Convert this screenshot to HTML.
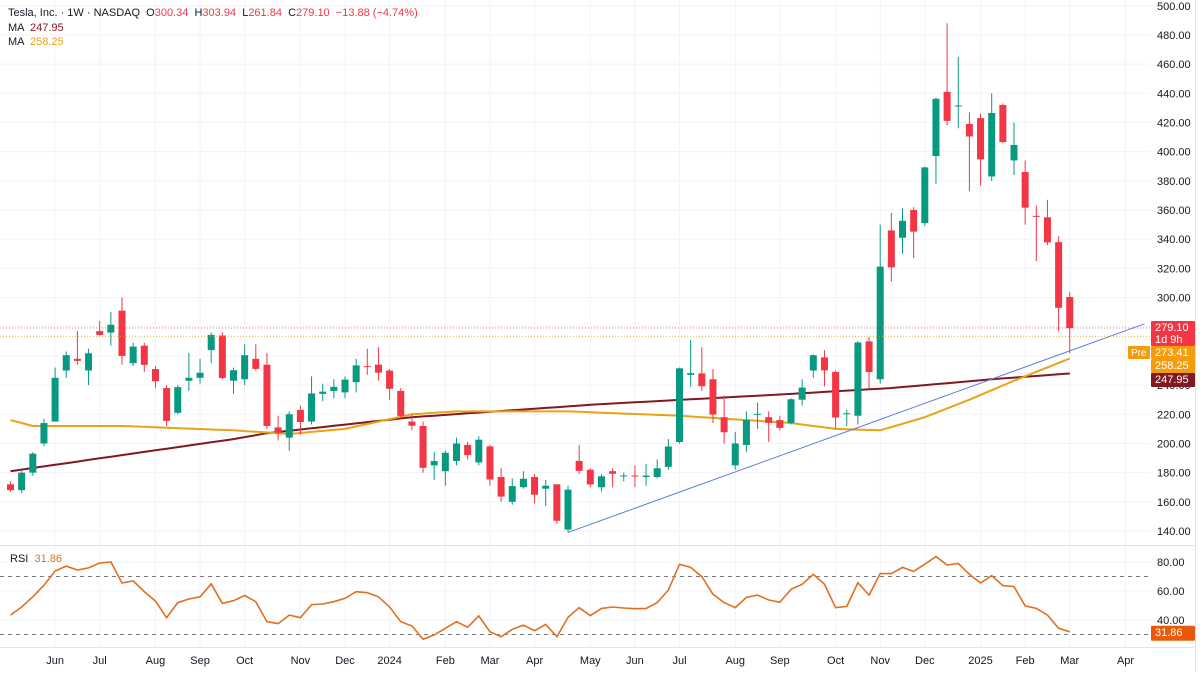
<!DOCTYPE html>
<html><head><meta charset="utf-8"><style>
html,body{margin:0;padding:0;background:#fff;}
svg{display:block;font-family:"Liberation Sans",sans-serif;}
</style></head><body>
<svg id="chart" width="1200" height="680" viewBox="0 0 1200 680" xmlns="http://www.w3.org/2000/svg">
<g id="grid"></g>
<g id="mas"></g>
<g id="candles"></g>
<g id="over"></g>
<g id="rsi"></g>
<g id="axes"></g>
<g font-size="11">
<text x="8" y="16" fill="#131722" xml:space="preserve">Tesla, Inc. · 1W · NASDAQ  O<tspan fill="#f23645">300.34</tspan>  H<tspan fill="#f23645">303.94</tspan>  L<tspan fill="#f23645">261.84</tspan>  C<tspan fill="#f23645">279.10  −13.88 (−4.74%)</tspan></text>
<text x="8" y="31" fill="#131722" xml:space="preserve">MA  <tspan fill="#8b1a2b">247.95</tspan></text>
<text x="8" y="45" fill="#131722" xml:space="preserve">MA  <tspan fill="#e8a317">258.25</tspan></text>
<text x="10" y="562" fill="#131722" xml:space="preserve">RSI  <tspan fill="#e07020">31.86</tspan></text>
</g>
</svg>
<script>
const opens=[172,168,180,200,215,250,258,250,277,276,291,255,267,251,238,221,243,245,264,274,243,244,258,254,211,204,223,215,234,236,235,242,253,254,250,236,215,212,185,181,188,199,187,198,177,160,170,177,169,172,141,188,182,170,181,178,178,177,177,184,201,247,248,244,218,185,199,220,218,216,214,230,250,259,249,220,219,270,244,346,341,360,351,397,441,431,419,423,383,432,394,386,356,355,338,300.34];
const highs=[174,181,194,217,252,263,277,265,284,290,300,269,269,253,240,240,262,258,276,276,252,268,268,262,219,222,226,246,241,244,246,258,265,266,251,238,220,215,194,195,204,201,205,199,183,176,181,179,175,172,171,199,183,179,183,180,185,186,189,203,252,271,266,251,233,208,222,228,222,219,231,244,261,264,250,223,270,273,350,358,361,362,390,437,488,465,427,426,440,433,420,394,363,367,342,303.94];
const lows=[167,166,178,198,215,245,254,240,274,267,254,253,249,238,212,220,236,241,255,244,234,240,250,210,202,195,206,213,229,231,231,235,247,243,230,217,209,180,175,171,185,189,185,171,160,158,169,159,157,145,139,179,170,167,170,174,170,171,176,182,200,239,236,214,200,182,194,210,201,209,213,226,245,239,210,212,213,238,241,311,330,327,349,378,418,416,373,377,380,406,384,350,325,336,277,261.84];
const closes=[168,180,193,214,245,260.5,256.6,261.8,274.4,281.4,260,266.4,253.9,242.7,215.5,238.6,245,248.5,274.4,244.9,250.2,260.5,251.1,212,207.3,220,214.7,234.3,235.5,238.8,243.8,253.5,252.5,248.5,237.5,218.9,212.2,183.3,187.9,193.6,200,192,202.6,175.3,163.6,170.8,175.8,164.9,171,147,168.3,181.2,171.9,177.5,179.2,178.1,177.5,178,183,197.9,251.5,248.2,239.2,219.8,207.7,200,216.1,220.3,214.1,210.7,230.3,238.3,260.5,250.1,217.8,220.7,269.2,249,321.2,320.7,352.6,345.2,389.2,436.2,421.1,431.7,410.4,394.7,426.5,406.6,404.6,361.6,355.9,337.8,293,279.1];
const rsiValues=[43.4,49,56,64,73.8,77.2,74.5,75.9,79.3,80,65.5,67,59.5,53,41.6,52,54.5,56,65,51.5,53.3,57,52.6,38.8,37.5,43.4,41.6,50.6,51,52.6,55,59.5,58.8,56,49,38.8,35.9,26.7,29.7,34.3,38.8,35,42.8,31.9,28.5,33.6,36.5,32.6,37,28.5,41.8,48.5,43,48,49,48.3,47.8,48,52,60.7,78.4,76.3,70,57.7,52,48.5,55.6,57.2,53.8,52.2,61.2,64.6,71.5,64.6,48.5,49.4,65.7,57.2,72,72,76.3,73.5,78.5,83.7,77.9,79,71.5,65.5,70.6,63.7,63,49.7,48,43.4,34.3,31.86];
const maSlowIdx=[0,10,20,23,36,53,70,79,88,95];
const maSlowVal=[181,192,203,207,218,227,234,238,244,247.95];
const maFastIdx=[0,2,10,20,25,30,36,40,50,60,70,74,78,82,86,90,95];
const maFastVal=[216,212,212,209,206.5,210,220,222,222,219,214,210,209,218,230,243,258.25];
const monthLabels=["Jun","Jul","Aug","Sep","Oct","Nov","Dec","2024","Feb","Mar","Apr","May","Jun","Jul","Aug","Sep","Oct","Nov","Dec","2025","Feb","Mar","Apr"];
const monthIdx=[4,8,13,17,21,26,30,34,39,43,47,52,56,60,65,69,74,78,82,87,91,95,100];
const priceTicks=[140,160,180,200,220,240,260,280,300,320,340,360,380,400,420,440,460,480,500];
const rsiTicks=[80,60,40];
const trendStart=[50,139], trendEnd=[101.7,282];
const lastPrice=279.10, prePrice=273.41;

const NS="http://www.w3.org/2000/svg";
const X=i=>10.5+i*11.15;
const Y=p=>531-(p-140)*1.459;
const YR=r=>562+(80-r)*1.45;
function mk(tag,attrs,parent,txt){const e=document.createElementNS(NS,tag);for(const k in attrs)e.setAttribute(k,attrs[k]);if(txt!==undefined)e.textContent=txt;parent.appendChild(e);return e;}
const grid=document.getElementById('grid'),cg=document.getElementById('candles'),mg=document.getElementById('mas'),og=document.getElementById('over'),rg=document.getElementById('rsi'),ag=document.getElementById('axes');

monthIdx.forEach(i=>{const l=mk('line',{x1:X(i),x2:X(i),y1:0,y2:647,stroke:'#f0f3fa','stroke-width':1},grid);

});
priceTicks.forEach(p=>{const l=mk('line',{x1:0,x2:1150,y1:Y(p),y2:Y(p),stroke:'#f0f3fa','stroke-width':1},grid);

});
rsiTicks.forEach(r=>{const l=mk('line',{x1:0,x2:1150,y1:YR(r),y2:YR(r),stroke:'#f0f3fa'},grid);

});
const sep=mk('line',{x1:0,x2:1195,y1:545.5,y2:545.5,stroke:'#e0e3eb'},grid);


const sep2=mk('line',{x1:0,x2:1195,y1:647.5,y2:647.5,stroke:'#e0e3eb'},grid);


const rb=mk('line',{x1:1195.5,x2:1195.5,y1:0,y2:672,stroke:'#e0e3eb'},grid);



function interp(idx,val){const pts=[];for(let i=0;i<=95;i++){let k=0;while(k<idx.length-2&&i>idx[k+1])k++;const t=(i-idx[k])/(idx[k+1]-idx[k]);pts.push(X(i).toFixed(1)+','+Y(val[k]+(val[k+1]-val[k])*t).toFixed(1));}return pts.join(' ');}
const maS=mk('polyline',{points:interp(maSlowIdx,maSlowVal),fill:'none',stroke:'#801922','stroke-width':2},mg);


const maF=mk('polyline',{points:interp(maFastIdx,maFastVal),fill:'none',stroke:'#e8a317','stroke-width':2},mg);



for(let i=0;i<closes.length;i++){
 const up=closes[i]>=opens[i];const col=up?'#089981':'#f23645';
 const g=mk('g',{},cg);
 
 
 mk('line',{x1:X(i),x2:X(i),y1:Y(highs[i]),y2:Y(lows[i]),stroke:col,'stroke-width':1},g);
 const top=Y(Math.max(opens[i],closes[i])),bot=Y(Math.min(opens[i],closes[i]));
 mk('rect',{x:X(i)-3.5,y:top,width:7,height:Math.max(1,bot-top),fill:col},g);
}

const tl=mk('line',{x1:X(trendStart[0]),y1:Y(trendStart[1]),x2:X(trendEnd[0]),y2:Y(trendEnd[1]),stroke:'#5b7fd6','stroke-width':1},og);


const lp=mk('line',{x1:0,x2:1150,y1:Y(lastPrice),y2:Y(lastPrice),stroke:'#f23645','stroke-width':1,'stroke-dasharray':'1,2',opacity:0.7},og);


const pp=mk('line',{x1:0,x2:1150,y1:Y(prePrice),y2:Y(prePrice),stroke:'#e8a317','stroke-width':1,'stroke-dasharray':'1,2',opacity:0.8},og);



[70,30].forEach(r=>{const l=mk('line',{x1:0,x2:1150,y1:YR(r),y2:YR(r),stroke:'#787b86','stroke-dasharray':'4,4','stroke-width':1},rg);

});
const rl=mk('polyline',{points:rsiValues.map((v,i)=>X(i).toFixed(1)+','+YR(v).toFixed(1)).join(' '),fill:'none',stroke:'#e07020','stroke-width':1.6},rg);



priceTicks.forEach(p=>{const t=mk('text',{x:1157,y:Y(p)+4,'font-size':11,fill:'#131722'},ag,p.toFixed(2));

});
rsiTicks.forEach(r=>{const t=mk('text',{x:1157,y:YR(r)+4,'font-size':11,fill:'#131722'},ag,r.toFixed(2));

});
monthLabels.forEach((m,k)=>{const t=mk('text',{x:X(monthIdx[k]),y:664,'font-size':11,fill:'#131722','text-anchor':'middle'},ag,m);

});
function box(y,h,fill,lines,name){const g=mk('g',{},ag);
 
 
 mk('rect',{x:1151,y:y,width:44,height:h,fill:fill,rx:1},g);
 lines.forEach((s,k)=>mk('text',{x:1155,y:y+10+k*12,'font-size':11,fill:'#fff'},g,s));}
// stacked price labels (collision-avoided, as on the axis)
box(321,25,'#f23645',[lastPrice.toFixed(2),'1d 9h'],'last-price-label');
box(346,13,'#f59c0b',[prePrice.toFixed(2)],'premarket-price-label');
box(359,14,'#f59c0b',[maFastVal[maFastVal.length-1].toFixed(2)],'ma-fast-label');
box(373,14,'#801922',[maSlowVal[maSlowVal.length-1].toFixed(2)],'ma-slow-label');
const pre=mk('g',{},ag);


mk('rect',{x:1128,y:346,width:22,height:13,fill:'#f59c0b',rx:1},pre);
mk('text',{x:1131,y:356,'font-size':10,fill:'#fff'},pre,'Pre');
box(YR(rsiValues[rsiValues.length-1])-6,15,'#e8590c',[rsiValues[rsiValues.length-1].toFixed(2)],'rsi-value-label');
</script>
</body></html>
